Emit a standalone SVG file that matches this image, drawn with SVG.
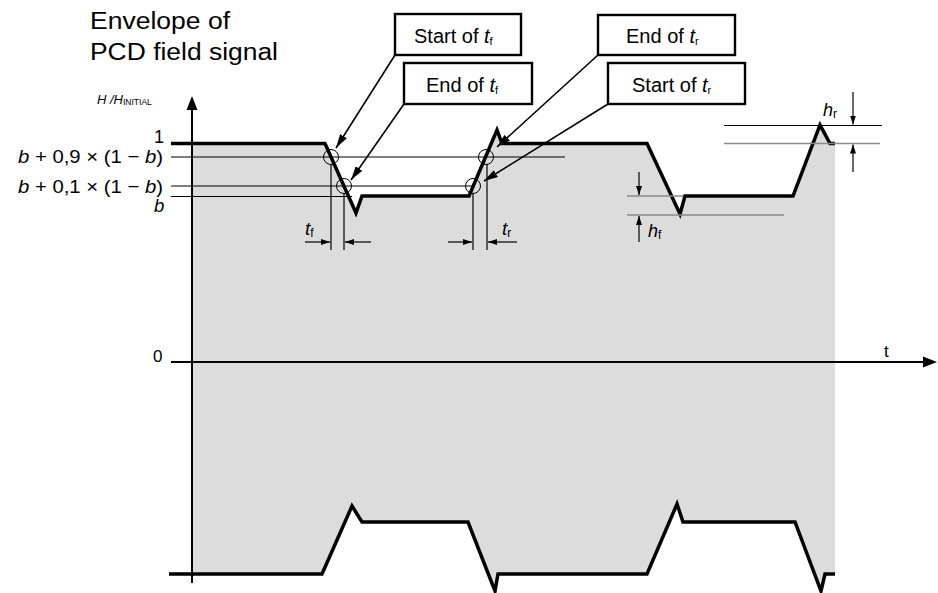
<svg xmlns="http://www.w3.org/2000/svg" width="938" height="593" viewBox="0 0 938 593">
<style>
.sig{fill:none;stroke:#000;stroke-width:3.5;stroke-linejoin:miter;stroke-miterlimit:10}
.thin{stroke:#000;stroke-width:1.2;fill:none}
.gl{stroke:#8a8a8a;stroke-width:1.6;fill:none}
.ax{stroke:#000;stroke-width:2;fill:none}
.box{fill:#fff;stroke:#000;stroke-width:2.4}
.lead{stroke:#000;stroke-width:1.6;fill:none}
.circ{fill:none;stroke:#000;stroke-width:1}
.t{font-family:"Liberation Sans",Arial,sans-serif;fill:#000}
.it{font-style:italic}
</style>
<defs>
<marker id="ah" viewBox="0 0 14 8" refX="14" refY="4" markerWidth="14" markerHeight="8" markerUnits="userSpaceOnUse" orient="auto"><path d="M0,0 L14,4 L0,8 z"/></marker>
<marker id="ad" viewBox="0 0 9 6" refX="9" refY="3" markerWidth="9" markerHeight="6" markerUnits="userSpaceOnUse" orient="auto"><path d="M0,0 L9,3 L0,6 z"/></marker>
</defs>

<g id="envelope-fill">
<path fill="#dcdcdc" d="M192,143.5 L325,143.5 L356,213 L362,196 L469,196 L497,130 L502,143.5 L647,143.5 L680,214 L685,196 L793,196 L820,125 L830,143.5 L835,143.5 L835,574 L825,574 L821,591 L795,522 L683,522 L677,504 L647,574 L498,574 L495,591 L468,522 L362,522 L352,506 L322,574 L192,574 Z"/>
</g>

<g id="title">
<text class="t" x="90" y="29" font-size="23" textLength="140" lengthAdjust="spacingAndGlyphs">Envelope of</text>
<text class="t" x="90" y="60" font-size="23" textLength="188" lengthAdjust="spacingAndGlyphs">PCD field signal</text>
</g>

<g id="reference-levels">
<line class="thin" x1="171" y1="157" x2="565" y2="157"/>
<line class="thin" x1="171" y1="186" x2="472" y2="186"/>
<line class="thin" x1="171" y1="196.5" x2="352" y2="196.5"/>
<text class="t" x="154" y="143" font-size="18">1</text>
<text class="t" x="18" y="163" font-size="18.5" textLength="145" lengthAdjust="spacingAndGlyphs"><tspan class="it">b</tspan> + 0,9 × (1 − <tspan class="it">b</tspan>)</text>
<text class="t" x="18" y="192.5" font-size="18.5" textLength="145" lengthAdjust="spacingAndGlyphs"><tspan class="it">b</tspan> + 0,1 × (1 − <tspan class="it">b</tspan>)</text>
<text class="t it" x="154" y="211.5" font-size="18.5">b</text>
</g>

<g id="axes">
<line class="ax" x1="192" y1="583" x2="192" y2="108"/>
<path d="M192,96 L186.5,110 L197.5,110 Z"/>
<line class="ax" x1="171" y1="362" x2="924" y2="362"/>
<path d="M937,362 L923,356.5 L923,367.5 Z"/>
<text class="t it" x="97" y="104" font-size="13">H /H<tspan font-style="normal" font-size="8.5" dy="1">INITIAL</tspan></text>
<text class="t" x="153" y="362" font-size="17">0</text>
<text class="t" x="884" y="357" font-size="17">t</text>
</g>

<g id="signal-top">
<path class="sig" d="M171,143.5 L325,143.5 L356,213 L362,196 L469,196 L497,130 L502,143.5 L647,143.5 L680,214 L685,196 L793,196 L820,125 L830,143.5 L835,143.5"/>
</g>
<g id="signal-bottom">
<path class="sig" d="M169,574 L322,574 L352,506 L362,522 L468,522 L495,591 L498,574 L647,574 L677,504 L683,522 L795,522 L821,591 L825,574 L835,574"/>
</g>

<g id="crossing-marks">
<circle class="circ" cx="331" cy="157" r="7.5"/>
<circle class="circ" cx="344" cy="186" r="7.5"/>
<circle class="circ" cx="473" cy="186" r="7.5"/>
<circle class="circ" cx="486" cy="157" r="7.5"/>
</g>

<g id="connectors">
<line class="lead" x1="395" y1="55" x2="336" y2="148" marker-end="url(#ah)"/>
<line class="lead" x1="404" y1="104" x2="351" y2="180" marker-end="url(#ah)"/>
<line class="lead" x1="598" y1="55" x2="497" y2="147" marker-end="url(#ah)"/>
<line class="lead" x1="608" y1="104" x2="484" y2="181" marker-end="url(#ah)"/>
</g>

<g id="box-start-tf">
<rect class="box" x="395" y="14" width="126" height="41"/>
<text class="t" x="414" y="43" font-size="20">Start of <tspan class="it">t</tspan><tspan font-size="11" dy="2">f</tspan></text>
</g>
<g id="box-end-tf">
<rect class="box" x="404" y="63" width="128" height="41"/>
<text class="t" x="426" y="92" font-size="20">End of <tspan class="it">t</tspan><tspan font-size="11" dy="2">f</tspan></text>
</g>
<g id="box-end-tr">
<rect class="box" x="598" y="15" width="137" height="40"/>
<text class="t" x="626" y="43" font-size="20">End of <tspan class="it">t</tspan><tspan font-size="11" dy="2">r</tspan></text>
</g>
<g id="box-start-tr">
<rect class="box" x="608" y="63" width="137" height="41"/>
<text class="t" x="632" y="92" font-size="20">Start of <tspan class="it">t</tspan><tspan font-size="11" dy="2">r</tspan></text>
</g>

<g id="dim-tf">
<line class="thin" x1="331" y1="164" x2="331" y2="250"/>
<line class="thin" x1="344" y1="193" x2="344" y2="250"/>
<line class="thin" x1="305" y1="242" x2="330" y2="242" marker-end="url(#ad)"/>
<line class="thin" x1="371" y1="242" x2="345" y2="242" marker-end="url(#ad)"/>
<text class="t it" x="305" y="235" font-size="19">t<tspan font-style="normal" font-size="12" dy="2">f</tspan></text>
</g>
<g id="dim-tr">
<line class="thin" x1="473" y1="193" x2="473" y2="250"/>
<line class="thin" x1="487" y1="164" x2="487" y2="250"/>
<line class="thin" x1="448" y1="242" x2="472" y2="242" marker-end="url(#ad)"/>
<line class="thin" x1="517" y1="242" x2="488" y2="242" marker-end="url(#ad)"/>
<text class="t it" x="502" y="235" font-size="19">t<tspan font-style="normal" font-size="12" dy="2">r</tspan></text>
</g>

<g id="dim-hf">
<line class="gl" x1="627" y1="196" x2="683" y2="196"/>
<line class="gl" x1="627" y1="215" x2="784" y2="215"/>
<line class="thin" x1="639" y1="172" x2="639" y2="195" marker-end="url(#ad)"/>
<line class="thin" x1="639" y1="242" x2="639" y2="216" marker-end="url(#ad)"/>
<text class="t it" x="648" y="237" font-size="18">h<tspan font-style="normal" font-size="12" dy="2">f</tspan></text>
</g>
<g id="dim-hr">
<line class="thin" x1="724" y1="125.5" x2="882" y2="125.5"/>
<line class="gl" x1="724" y1="143.5" x2="880" y2="143.5"/>
<line class="thin" x1="853" y1="92" x2="853" y2="124.5" marker-end="url(#ad)"/>
<line class="thin" x1="853" y1="172" x2="853" y2="144.5" marker-end="url(#ad)"/>
<text class="t it" x="823" y="116" font-size="18">h<tspan font-style="normal" font-size="12" dy="2">r</tspan></text>
</g>
</svg>
